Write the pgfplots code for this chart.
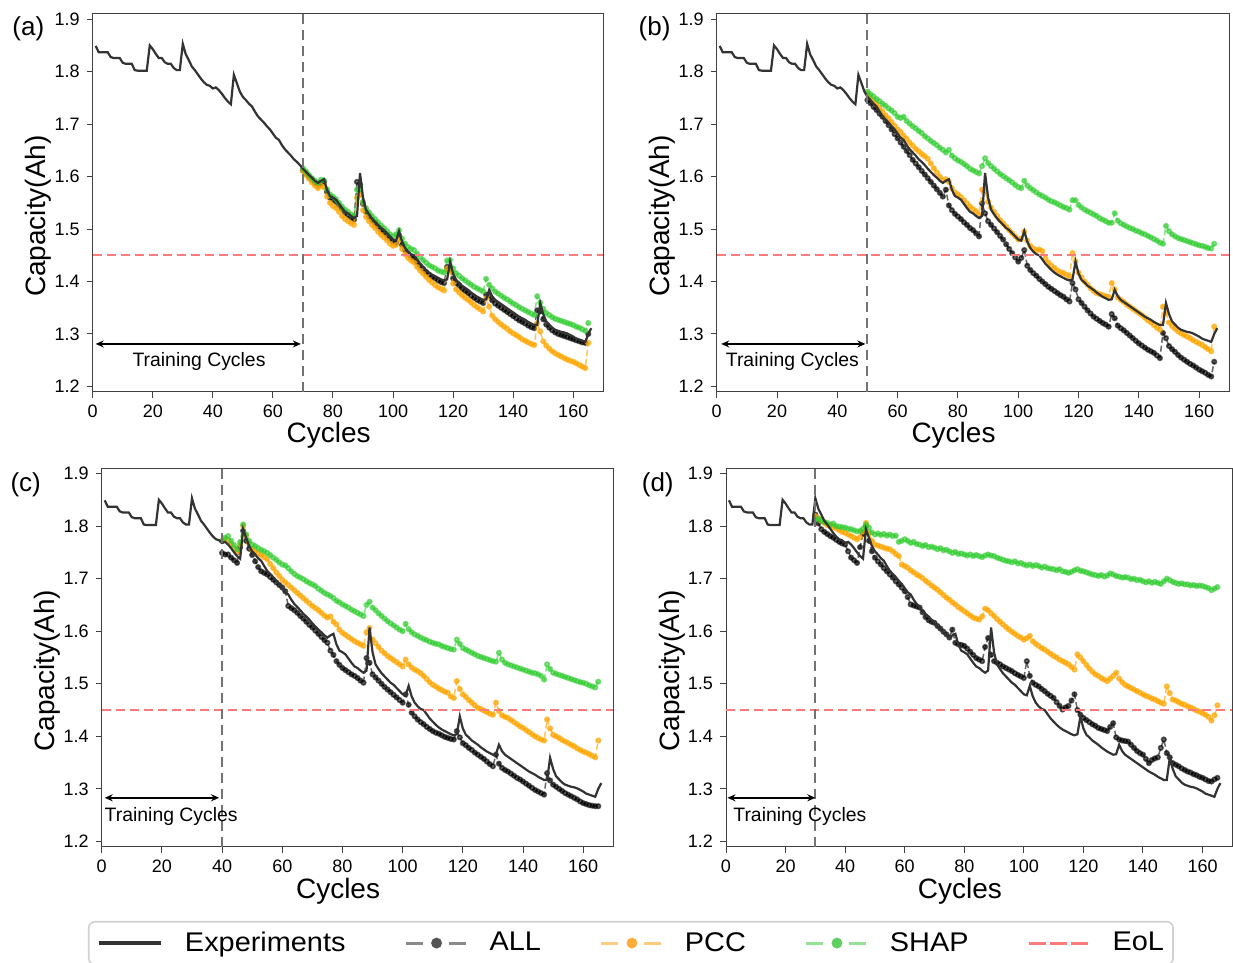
\documentclass[border=0pt]{standalone}
\usepackage{fontspec}
\setmainfont{Liberation Sans}
\newfontfamily\legendfont[FakeStretch=1.07]{Liberation Sans}
\usepackage{pgfplots}
\usepackage{pgfplotstable}
\pgfplotsset{compat=1.18}
\usetikzlibrary{arrows.meta}

\definecolor{pccc}{HTML}{FFA500}
\definecolor{shapc}{HTML}{32CD32}
\definecolor{eolc}{HTML}{F97B7B}
\definecolor{pccl}{RGB}{255,203,128}
\definecolor{pccm}{RGB}{255,174,58}
\definecolor{shapl}{RGB}{148,227,148}
\definecolor{shapm}{RGB}{95,208,95}

\pgfplotstableread{
c v
1 1.849
2 1.837
3 1.837
4 1.837
5 1.837
6 1.828
7 1.826
8 1.826
9 1.826
10 1.817
11 1.815
12 1.815
13 1.815
14 1.803
15 1.802
16 1.802
17 1.802
18 1.802
19 1.850
20 1.843
21 1.834
22 1.826
23 1.826
24 1.818
25 1.815
26 1.815
27 1.807
28 1.803
29 1.803
30 1.853
31 1.833
32 1.822
33 1.810
34 1.803
35 1.795
36 1.787
37 1.780
38 1.775
39 1.773
40 1.768
41 1.770
42 1.765
43 1.758
44 1.750
45 1.743
46 1.738
47 1.794
48 1.778
49 1.762
50 1.752
51 1.746
52 1.739
53 1.734
54 1.724
55 1.715
56 1.709
57 1.703
58 1.696
59 1.690
60 1.682
61 1.674
62 1.670
63 1.660
64 1.652
65 1.646
66 1.640
67 1.633
68 1.628
69 1.622
70 1.615
71 1.609
72 1.603
73 1.598
74 1.592
75 1.588
76 1.592
77 1.595
78 1.575
79 1.563
80 1.560
81 1.556
82 1.548
83 1.540
84 1.533
85 1.530
86 1.525
87 1.521
88 1.525
89 1.607
90 1.560
91 1.537
92 1.528
93 1.520
94 1.514
95 1.508
96 1.502
97 1.498
98 1.492
99 1.486
100 1.480
101 1.478
102 1.496
103 1.476
104 1.464
105 1.457
106 1.452
107 1.450
108 1.442
109 1.434
110 1.428
111 1.422
112 1.417
113 1.413
114 1.410
115 1.407
116 1.404
117 1.402
118 1.404
119 1.438
120 1.415
121 1.403
122 1.398
123 1.392
124 1.388
125 1.384
126 1.379
127 1.375
128 1.371
129 1.368
130 1.365
131 1.366
132 1.384
133 1.372
134 1.365
135 1.361
136 1.357
137 1.353
138 1.349
139 1.345
140 1.341
141 1.337
142 1.333
143 1.330
144 1.327
145 1.323
146 1.320
147 1.317
148 1.317
149 1.359
150 1.338
151 1.324
152 1.318
153 1.312
154 1.308
155 1.306
156 1.304
157 1.303
158 1.301
159 1.298
160 1.295
161 1.291
162 1.289
163 1.287
164 1.285
165 1.300
166 1.311
}\tabExp

\pgfplotstableread{
c all pcc shap
70 1.612 1.611 1.616
71 1.606 1.603 1.610
72 1.600 1.596 1.603
73 1.594 1.589 1.597
74 1.588 1.583 1.592
75 1.583 1.578 1.588
76 1.588 1.583 1.594
77 1.590 1.580 1.593
78 1.571 1.562 1.576
79 1.560 1.550 1.566
80 1.556 1.544 1.562
81 1.552 1.540 1.557
82 1.545 1.533 1.550
83 1.538 1.525 1.543
84 1.531 1.519 1.537
85 1.527 1.515 1.533
86 1.522 1.511 1.528
87 1.518 1.508 1.525
88 1.590 1.560 1.575
89 1.585 1.565 1.582
90 1.548 1.536 1.552
91 1.533 1.523 1.540
92 1.524 1.515 1.532
93 1.517 1.508 1.525
94 1.511 1.502 1.519
95 1.505 1.495 1.513
96 1.499 1.489 1.507
97 1.494 1.484 1.502
98 1.488 1.478 1.496
99 1.482 1.472 1.490
100 1.476 1.468 1.486
101 1.474 1.470 1.490
102 1.488 1.480 1.498
103 1.470 1.462 1.482
104 1.460 1.452 1.472
105 1.453 1.445 1.466
106 1.447 1.440 1.462
107 1.444 1.436 1.460
108 1.437 1.428 1.453
109 1.430 1.421 1.447
110 1.424 1.415 1.441
111 1.418 1.409 1.436
112 1.413 1.403 1.431
113 1.409 1.398 1.428
114 1.406 1.393 1.425
115 1.402 1.389 1.421
116 1.399 1.386 1.419
117 1.397 1.383 1.417
118 1.428 1.425 1.440
119 1.424 1.420 1.441
120 1.406 1.396 1.425
121 1.397 1.385 1.416
122 1.392 1.379 1.411
123 1.386 1.374 1.406
124 1.382 1.369 1.402
125 1.378 1.365 1.398
126 1.373 1.360 1.394
127 1.369 1.355 1.390
128 1.365 1.351 1.387
129 1.362 1.347 1.384
130 1.359 1.343 1.381
131 1.375 1.368 1.405
132 1.373 1.352 1.394
133 1.364 1.335 1.387
134 1.358 1.328 1.381
135 1.354 1.323 1.377
136 1.350 1.318 1.373
137 1.346 1.314 1.369
138 1.342 1.310 1.366
139 1.338 1.305 1.362
140 1.334 1.301 1.358
141 1.330 1.298 1.355
142 1.326 1.294 1.351
143 1.323 1.290 1.348
144 1.320 1.287 1.345
145 1.316 1.284 1.342
146 1.313 1.281 1.339
147 1.311 1.279 1.336
148 1.345 1.321 1.372
149 1.343 1.305 1.360
150 1.328 1.286 1.348
151 1.318 1.278 1.340
152 1.312 1.272 1.336
153 1.307 1.267 1.332
154 1.303 1.263 1.329
155 1.300 1.260 1.327
156 1.298 1.257 1.325
157 1.296 1.254 1.323
158 1.294 1.251 1.321
159 1.292 1.249 1.319
160 1.290 1.247 1.317
161 1.288 1.244 1.314
162 1.286 1.241 1.312
163 1.284 1.238 1.309
164 1.283 1.235 1.306
165 1.300 1.283 1.321
}\tabA

\pgfplotstableread{
c all pcc shap
50 1.746 1.759 1.762
51 1.740 1.752 1.757
52 1.733 1.745 1.753
53 1.727 1.738 1.748
54 1.720 1.731 1.744
55 1.714 1.724 1.739
56 1.706 1.717 1.735
57 1.698 1.711 1.730
58 1.690 1.704 1.726
59 1.681 1.697 1.721
60 1.673 1.690 1.714
61 1.665 1.685 1.712
62 1.657 1.678 1.714
63 1.649 1.672 1.706
64 1.641 1.665 1.701
65 1.632 1.659 1.696
66 1.625 1.653 1.692
67 1.618 1.648 1.687
68 1.611 1.643 1.683
69 1.604 1.639 1.677
70 1.597 1.634 1.673
71 1.590 1.625 1.668
72 1.583 1.616 1.664
73 1.576 1.608 1.660
74 1.569 1.600 1.655
75 1.562 1.593 1.651
76 1.575 1.595 1.646
77 1.545 1.590 1.651
78 1.536 1.578 1.640
79 1.529 1.570 1.635
80 1.524 1.566 1.631
81 1.519 1.561 1.628
82 1.513 1.555 1.624
83 1.508 1.549 1.620
84 1.502 1.543 1.615
85 1.498 1.538 1.612
86 1.492 1.534 1.609
87 1.486 1.527 1.606
88 1.549 1.575 1.620
89 1.530 1.572 1.635
90 1.515 1.552 1.626
91 1.508 1.541 1.620
92 1.501 1.533 1.615
93 1.494 1.525 1.610
94 1.487 1.517 1.605
95 1.480 1.511 1.601
96 1.471 1.505 1.597
97 1.462 1.498 1.593
98 1.454 1.492 1.589
99 1.446 1.486 1.584
100 1.438 1.480 1.580
101 1.445 1.482 1.578
102 1.460 1.495 1.592
103 1.430 1.478 1.583
104 1.422 1.468 1.578
105 1.416 1.463 1.574
106 1.411 1.460 1.570
107 1.405 1.461 1.566
108 1.400 1.458 1.563
109 1.395 1.444 1.560
110 1.390 1.436 1.556
111 1.386 1.430 1.553
112 1.382 1.426 1.551
113 1.378 1.421 1.548
114 1.374 1.418 1.545
115 1.371 1.416 1.542
116 1.366 1.413 1.540
117 1.362 1.410 1.537
118 1.397 1.454 1.555
119 1.385 1.438 1.555
120 1.366 1.417 1.546
121 1.359 1.408 1.541
122 1.352 1.400 1.537
123 1.345 1.394 1.534
124 1.339 1.387 1.531
125 1.333 1.382 1.528
126 1.329 1.378 1.525
127 1.325 1.376 1.521
128 1.321 1.374 1.518
129 1.318 1.372 1.515
130 1.314 1.371 1.512
131 1.338 1.397 1.512
132 1.330 1.385 1.530
133 1.316 1.370 1.516
134 1.311 1.365 1.511
135 1.307 1.361 1.508
136 1.302 1.356 1.505
137 1.297 1.352 1.502
138 1.292 1.348 1.500
139 1.287 1.344 1.497
140 1.282 1.340 1.495
141 1.278 1.336 1.492
142 1.274 1.331 1.490
143 1.270 1.326 1.487
144 1.267 1.322 1.484
145 1.264 1.317 1.481
146 1.259 1.312 1.478
147 1.254 1.308 1.474
148 1.302 1.352 1.472
149 1.292 1.340 1.506
150 1.277 1.322 1.496
151 1.271 1.315 1.490
152 1.266 1.310 1.486
153 1.260 1.305 1.483
154 1.255 1.301 1.481
155 1.251 1.298 1.479
156 1.247 1.295 1.477
157 1.243 1.292 1.475
158 1.240 1.288 1.473
159 1.236 1.285 1.471
160 1.232 1.282 1.469
161 1.229 1.279 1.468
162 1.226 1.275 1.466
163 1.222 1.271 1.464
164 1.219 1.267 1.463
165 1.247 1.314 1.472
}\tabB

\pgfplotstableread{
c all pcc shap
40 1.749 1.772 1.772
41 1.746 1.775 1.778
42 1.746 1.773 1.781
43 1.740 1.765 1.772
44 1.735 1.757 1.764
45 1.730 1.751 1.756
46 1.760 1.765 1.770
47 1.791 1.800 1.803
48 1.772 1.782 1.784
49 1.757 1.768 1.772
50 1.745 1.756 1.765
51 1.733 1.752 1.762
52 1.722 1.748 1.758
53 1.714 1.745 1.755
54 1.711 1.741 1.752
55 1.708 1.737 1.749
56 1.703 1.728 1.745
57 1.698 1.720 1.740
58 1.693 1.712 1.736
59 1.688 1.705 1.731
60 1.683 1.698 1.727
61 1.676 1.693 1.725
62 1.648 1.688 1.720
63 1.644 1.683 1.714
64 1.640 1.678 1.709
65 1.635 1.673 1.705
66 1.629 1.668 1.702
67 1.624 1.663 1.699
68 1.618 1.658 1.695
69 1.612 1.653 1.692
70 1.607 1.648 1.689
71 1.601 1.644 1.686
72 1.595 1.640 1.681
73 1.589 1.635 1.677
74 1.583 1.630 1.673
75 1.578 1.626 1.670
76 1.563 1.628 1.667
77 1.555 1.618 1.663
78 1.543 1.613 1.658
79 1.536 1.603 1.655
80 1.530 1.597 1.651
81 1.526 1.593 1.648
82 1.522 1.589 1.645
83 1.518 1.585 1.641
84 1.515 1.581 1.638
85 1.511 1.578 1.635
86 1.506 1.575 1.632
87 1.502 1.572 1.629
88 1.549 1.598 1.650
89 1.540 1.606 1.656
90 1.518 1.584 1.645
91 1.512 1.577 1.640
92 1.506 1.570 1.634
93 1.500 1.563 1.629
94 1.494 1.558 1.624
95 1.489 1.553 1.619
96 1.484 1.549 1.615
97 1.479 1.545 1.611
98 1.474 1.541 1.607
99 1.469 1.537 1.603
100 1.464 1.533 1.600
101 1.480 1.546 1.614
102 1.460 1.537 1.604
103 1.445 1.531 1.598
104 1.438 1.527 1.594
105 1.432 1.524 1.591
106 1.427 1.520 1.588
107 1.423 1.515 1.585
108 1.418 1.509 1.583
109 1.414 1.503 1.580
110 1.410 1.498 1.578
111 1.407 1.495 1.576
112 1.405 1.491 1.575
113 1.402 1.488 1.572
114 1.399 1.485 1.570
115 1.397 1.483 1.568
116 1.395 1.476 1.566
117 1.394 1.473 1.565
118 1.410 1.505 1.584
119 1.398 1.490 1.576
120 1.387 1.480 1.568
121 1.383 1.475 1.565
122 1.378 1.469 1.562
123 1.374 1.464 1.559
124 1.369 1.459 1.556
125 1.365 1.454 1.553
126 1.361 1.452 1.551
127 1.357 1.449 1.549
128 1.352 1.446 1.547
129 1.347 1.443 1.545
130 1.343 1.441 1.543
131 1.365 1.464 1.542
132 1.348 1.448 1.559
133 1.340 1.440 1.546
134 1.336 1.437 1.540
135 1.333 1.435 1.537
136 1.329 1.431 1.535
137 1.325 1.427 1.533
138 1.321 1.423 1.531
139 1.318 1.419 1.529
140 1.314 1.416 1.527
141 1.310 1.412 1.525
142 1.306 1.408 1.523
143 1.302 1.404 1.521
144 1.298 1.400 1.520
145 1.295 1.397 1.518
146 1.292 1.394 1.515
147 1.289 1.392 1.508
148 1.330 1.432 1.537
149 1.316 1.415 1.528
150 1.308 1.403 1.521
151 1.304 1.400 1.519
152 1.300 1.397 1.517
153 1.296 1.393 1.515
154 1.292 1.390 1.513
155 1.289 1.387 1.511
156 1.286 1.384 1.509
157 1.283 1.381 1.507
158 1.280 1.377 1.505
159 1.276 1.374 1.503
160 1.273 1.371 1.502
161 1.271 1.369 1.500
162 1.269 1.366 1.497
163 1.268 1.363 1.495
164 1.267 1.360 1.493
165 1.267 1.392 1.504
}\tabC

\pgfplotstableread{
c all pcc shap
30 1.822 1.819 1.813
31 1.805 1.815 1.814
32 1.794 1.810 1.811
33 1.789 1.806 1.808
34 1.785 1.802 1.806
35 1.781 1.800 1.803
36 1.778 1.798 1.805
37 1.774 1.796 1.800
38 1.770 1.792 1.799
39 1.767 1.789 1.798
40 1.765 1.787 1.797
41 1.752 1.784 1.795
42 1.740 1.781 1.794
43 1.735 1.778 1.792
44 1.730 1.775 1.790
45 1.760 1.779 1.791
46 1.785 1.790 1.795
47 1.800 1.806 1.803
48 1.772 1.786 1.797
49 1.752 1.772 1.788
50 1.740 1.765 1.784
51 1.733 1.763 1.786
52 1.727 1.761 1.783
53 1.720 1.759 1.785
54 1.714 1.757 1.782
55 1.708 1.756 1.784
56 1.702 1.752 1.781
57 1.695 1.747 1.782
58 1.689 1.743 1.770
59 1.683 1.727 1.772
60 1.676 1.724 1.775
61 1.665 1.721 1.772
62 1.651 1.716 1.768
63 1.649 1.712 1.770
64 1.647 1.708 1.766
65 1.645 1.705 1.765
66 1.636 1.701 1.762
67 1.627 1.696 1.764
68 1.621 1.692 1.760
69 1.618 1.687 1.761
70 1.616 1.683 1.759
71 1.610 1.679 1.756
72 1.605 1.674 1.758
73 1.599 1.669 1.754
74 1.594 1.664 1.755
75 1.588 1.660 1.752
76 1.603 1.655 1.749
77 1.578 1.651 1.751
78 1.575 1.646 1.747
79 1.574 1.642 1.748
80 1.572 1.638 1.746
81 1.567 1.634 1.744
82 1.561 1.630 1.746
83 1.555 1.626 1.743
84 1.549 1.624 1.745
85 1.546 1.622 1.743
86 1.543 1.628 1.741
87 1.570 1.643 1.744
88 1.587 1.640 1.746
89 1.555 1.634 1.744
90 1.543 1.629 1.743
91 1.540 1.623 1.740
92 1.537 1.618 1.738
93 1.533 1.613 1.736
94 1.530 1.608 1.734
95 1.527 1.603 1.733
96 1.524 1.599 1.731
97 1.520 1.595 1.733
98 1.517 1.591 1.729
99 1.514 1.588 1.730
100 1.511 1.584 1.727
101 1.543 1.587 1.725
102 1.515 1.591 1.727
103 1.502 1.581 1.724
104 1.498 1.576 1.726
105 1.495 1.572 1.724
106 1.490 1.568 1.721
107 1.486 1.565 1.723
108 1.481 1.561 1.720
109 1.477 1.557 1.719
110 1.473 1.553 1.718
111 1.465 1.550 1.716
112 1.458 1.546 1.718
113 1.451 1.543 1.714
114 1.455 1.540 1.713
115 1.458 1.537 1.711
116 1.468 1.532 1.713
117 1.480 1.527 1.716
118 1.450 1.556 1.718
119 1.441 1.550 1.715
120 1.435 1.543 1.714
121 1.431 1.536 1.712
122 1.427 1.529 1.710
123 1.423 1.523 1.708
124 1.420 1.518 1.707
125 1.416 1.515 1.705
126 1.414 1.511 1.707
127 1.412 1.508 1.704
128 1.410 1.505 1.706
129 1.418 1.510 1.710
130 1.425 1.515 1.708
131 1.398 1.521 1.705
132 1.394 1.510 1.704
133 1.392 1.503 1.702
134 1.391 1.498 1.703
135 1.390 1.495 1.702
136 1.384 1.492 1.699
137 1.378 1.489 1.700
138 1.372 1.486 1.697
139 1.368 1.483 1.698
140 1.365 1.480 1.695
141 1.357 1.477 1.693
142 1.349 1.475 1.695
143 1.355 1.472 1.692
144 1.358 1.470 1.694
145 1.360 1.467 1.692
146 1.378 1.464 1.690
147 1.394 1.462 1.695
148 1.368 1.495 1.700
149 1.360 1.482 1.697
150 1.349 1.470 1.694
151 1.346 1.468 1.692
152 1.343 1.465 1.690
153 1.339 1.462 1.691
154 1.336 1.460 1.689
155 1.333 1.457 1.689
156 1.331 1.455 1.687
157 1.328 1.452 1.688
158 1.326 1.449 1.686
159 1.323 1.447 1.687
160 1.321 1.444 1.686
161 1.318 1.441 1.684
162 1.315 1.437 1.682
163 1.314 1.430 1.678
164 1.318 1.440 1.681
165 1.321 1.459 1.684
}\tabD

\pgfplotsset{
  panel/.style={
    scale only axis, anchor=south west, clip mode=individual,
    xmin=0, xmax=170, ymin=1.19, ymax=1.91,
    xtick={0,20,40,60,80,100,120,140,160},
    ytick={1.2,1.3,1.4,1.5,1.6,1.7,1.8,1.9},
    tick pos=left, tick align=outside, major tick length=3pt,
    axis line style={black!75, line width=0.5pt},
    tick style={black!75, line width=0.5pt},
    tick label style={font=\fontsize{9}{10}\selectfont},
    /pgf/number format/assume math mode=true,
    xlabel={Cycles}, ylabel={Capacity(Ah)},
    label style={font=\fontsize{14}{16}\selectfont},
    xlabel style={at={(axis description cs:0.462,-0.1358)}, anchor=base},
    ylabel style={at={(axis description cs:-0.092,0.465)}, anchor=base},
    yticklabel style={/pgf/number format/.cd, fixed, fixed zerofill, precision=1},
  },
  expst/.style={black!80, line width=1.1pt, no marks},
  allst/.style={black, opacity=0.6, line width=0.75pt, dash pattern=on 3pt off 1.5pt, mark=*, mark size=1.15pt, mark options={solid}},
  pccst/.style={pccc, opacity=0.65, line width=0.75pt, dash pattern=on 3pt off 1.5pt, mark=*, mark size=1.15pt, mark options={solid}},
  shapst/.style={shapc, opacity=0.6, line width=0.75pt, dash pattern=on 3pt off 1.5pt, mark=*, mark size=1.15pt, mark options={solid}},
  eolst/.style={eolc, line width=1pt, dash pattern=on 4.5pt off 2.5pt, no marks},
  trst/.style={black!55, line width=1pt, dash pattern=on 5pt off 3pt, no marks},
}
\tikzset{plab/.style={anchor=base west, inner sep=0pt, font=\fontsize{13}{15}\selectfont}}
\newcommand{\trainfont}{\fontsize{9.7}{11}\selectfont}

\begin{document}
\begin{tikzpicture}
\useasboundingbox (0,0) rectangle (616.5pt,481.5pt);

% (a)
\begin{axis}[panel, at={(46.35pt,285.65pt)}, width=255.3pt, height=188.85pt]
\addplot[allst] table[x=c,y=all]{\tabA};
\addplot[pccst] table[x=c,y=pcc]{\tabA};
\addplot[shapst] table[x=c,y=shap]{\tabA};
\addplot[expst] table[x=c,y=v]{\tabExp};
\addplot[eolst] coordinates {(0,1.45) (170,1.45)};
\addplot[trst] coordinates {(70,1.19) (70,1.91)};
\draw[{Stealth[length=4pt,width=3.5pt]}-{Stealth[length=4pt,width=3.5pt]}, line width=0.9pt] (axis cs:1,1.281) -- (axis cs:69.3,1.281);
\node[anchor=base, font=\trainfont] at (axis cs:35.4,1.238) {Training Cycles};
\node[plab] at (axis description cs:-0.158,0.942) {(a)};
\end{axis}

% (b)
\begin{axis}[panel, at={(358.35pt,285.65pt)}, width=256.3pt, height=188.85pt]
\addplot[allst] table[x=c,y=all]{\tabB};
\addplot[pccst] table[x=c,y=pcc]{\tabB};
\addplot[shapst] table[x=c,y=shap]{\tabB};
\addplot[expst] table[x=c,y=v]{\tabExp};
\addplot[eolst] coordinates {(0,1.45) (170,1.45)};
\addplot[trst] coordinates {(50,1.19) (50,1.91)};
\draw[{Stealth[length=4pt,width=3.5pt]}-{Stealth[length=4pt,width=3.5pt]}, line width=0.9pt] (axis cs:1.5,1.281) -- (axis cs:49.3,1.281);
\node[anchor=base, font=\trainfont] at (axis cs:25.1,1.238) {Training Cycles};
\node[plab] at (axis description cs:-0.153,0.942) {(b)};
\end{axis}

% (c)
\begin{axis}[panel, at={(50.85pt,58.15pt)}, width=255.8pt, height=189.2pt]
\addplot[allst] table[x=c,y=all]{\tabC};
\addplot[pccst] table[x=c,y=pcc]{\tabC};
\addplot[shapst] table[x=c,y=shap]{\tabC};
\addplot[expst] table[x=c,y=v]{\tabExp};
\addplot[eolst] coordinates {(0,1.45) (170,1.45)};
\addplot[trst] coordinates {(40,1.19) (40,1.91)};
\draw[{Stealth[length=4pt,width=3.5pt]}-{Stealth[length=4pt,width=3.5pt]}, line width=0.9pt] (axis cs:1,1.283) -- (axis cs:39,1.283);
\node[anchor=base, font=\trainfont] at (axis cs:23.1,1.238) {Training Cycles};
\node[plab] at (axis description cs:-0.179,0.94) {(c)};
\end{axis}

% (d)
\begin{axis}[panel, at={(363pt,58.15pt)}, width=253.15pt, height=189.2pt]
\addplot[allst] table[x=c,y=all]{\tabD};
\addplot[pccst] table[x=c,y=pcc]{\tabD};
\addplot[shapst] table[x=c,y=shap]{\tabD};
\addplot[expst] table[x=c,y=v]{\tabExp};
\addplot[eolst] coordinates {(0,1.45) (170,1.45)};
\addplot[trst] coordinates {(30,1.19) (30,1.91)};
\draw[{Stealth[length=4pt,width=3.5pt]}-{Stealth[length=4pt,width=3.5pt]}, line width=0.9pt] (axis cs:0.5,1.283) -- (axis cs:30,1.283);
\node[anchor=base, font=\trainfont] at (axis cs:24.8,1.238) {Training Cycles};
\node[plab] at (axis description cs:-0.167,0.94) {(d)};
\end{axis}

% legend
\begin{axis}[at={(0pt,0pt)}, anchor=south west, scale only axis, width=616.5pt, height=481.5pt,
  hide axis, xmin=0, xmax=1, ymin=0, ymax=1,
  legend columns=5, legend cell align=left,
  legend style={at={(0.07137,0.04361)}, anchor=north west,
    draw=black!18, line width=0.8pt, rounded corners=3pt, fill=white,
    font=\legendfont\fontsize{13.5}{16}\selectfont,
    inner xsep=4.5pt, inner ysep=5pt,
    nodes={inner sep=0pt},
    /tikz/every odd column/.append style={column sep=11pt},
    /tikz/every even column/.append style={column sep=29.5pt}}]
\addlegendimage{legend image code/.code={\draw[line width=1.6pt, black!80, sharp corners] (0pt,0pt) -- (31pt,0pt);}}
\addlegendentry{Experiments}
\addlegendimage{legend image code/.code={\draw[line width=1.5pt, black!46, sharp corners] (0pt,0pt) -- (8.5pt,0pt) (21.5pt,0pt) -- (30pt,0pt); \draw[black!67, mark=*, mark size=2.3pt, only marks] plot coordinates {(15.25pt,0pt)};}}
\addlegendentry{ALL}
\addlegendimage{legend image code/.code={\draw[line width=1.5pt, pccl, sharp corners] (0pt,0pt) -- (8.5pt,0pt) (21.5pt,0pt) -- (30pt,0pt); \draw[pccm, mark=*, mark size=2.3pt, only marks] plot coordinates {(15.25pt,0pt)};}}
\addlegendentry{PCC}
\addlegendimage{legend image code/.code={\draw[line width=1.5pt, shapl, sharp corners] (0pt,0pt) -- (8.5pt,0pt) (21.5pt,0pt) -- (30pt,0pt); \draw[shapm, mark=*, mark size=2.3pt, only marks] plot coordinates {(15.25pt,0pt)};}}
\addlegendentry{SHAP}
\addlegendimage{legend image code/.code={\draw[line width=1.5pt, eolc, dash pattern=on 8.5pt off 2pt, sharp corners] (0pt,0pt) -- (30pt,0pt);}}
\addlegendentry{EoL}
\end{axis}
\end{tikzpicture}
\end{document}
